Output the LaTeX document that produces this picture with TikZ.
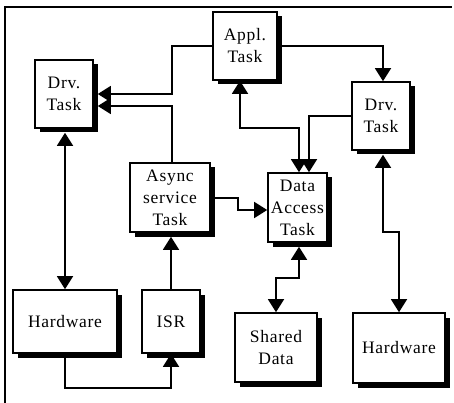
\documentclass[tikz,border=0pt]{standalone}
\usepackage{fontspec}
\setmainfont[LetterSpace=4]{Liberation Serif}
\usetikzlibrary{positioning, shadows, arrows.meta}

\begin{document}
\begin{tikzpicture}[
  x=1pt, y=-1pt,
  every node/.style={
    font=\fontsize{17.5}{22}\selectfont,
    align=center,
    inner sep=0mm
  },
  task box/.style={
    draw,
    fill=white,
    line width=1.6pt,
    drop shadow={shadow xshift=4.5pt, shadow yshift=-4.5pt, fill=black, opacity=1}
  },
  link arrow/.style={
    -{Triangle[length=13pt, width=16pt]},
    line width=1.5pt
  },
  both arrow/.style={
    {Triangle[length=13pt, width=16pt]}-{Triangle[length=13pt, width=16pt]},
    line width=1.5pt
  }
]
\useasboundingbox (0,0) rectangle (454,403);

% frame
\draw[line width=1.5pt] (5,403) -- (5,7) -- (452,7);

\node(drvL)[task box, minimum width=58pt, minimum height=68pt] at (64,94) {Drv.\\Task};
\node(appl)[task box, minimum width=64pt, minimum height=68pt] at (245,46) {Appl.\\Task};
\node(drvR)[task box, minimum width=58pt, minimum height=68pt] at (381,116) {Drv.\\Task};
\node(async)[task box, minimum width=80pt, minimum height=69pt] at (170,197.5) {Async\\service\\Task};
\node(access)[task box, minimum width=59pt, minimum height=69pt] at (297.5,207.5) {Data\\Access\\Task};
\node(hwL)[task box, minimum width=104pt, minimum height=63pt] at (65,321.5) {Hardware};
\node(isr)[task box, minimum width=58pt, minimum height=63pt] at (171,321.5) {ISR};
\node(shared)[task box, minimum width=82pt, minimum height=69pt] at (276,347.5) {Shared\\Data};
\node(hwR)[task box, minimum width=92pt, minimum height=70pt] at (399,348) {Hardware};

\coordinate (bendA) at (172,46);
\coordinate (bendB) at (238,198);
\coordinate (bendC) at (65,388);
\coordinate (bendD) at (299,278);
\coordinate (bendE) at (240,128);
\coordinate (bendR) at (383,232);

\draw[link arrow, shorten >=4pt] (appl.west) -- (bendA) |- (drvL.east);
\draw[link arrow, shorten >=4pt] (async.north -| bendA) |- ([yshift=-12pt]drvL.east);
\draw[link arrow] (appl.east) -| (drvR.north -| bendR);
\draw[both arrow] (appl.south -| bendE) -- (bendE) -| ([xshift=1.5pt]access.north);
\draw[link arrow] (drvR.west) -| ([xshift=11.5pt]access.north);
\draw[both arrow, shorten <=4pt] (drvR.south -| bendR) -- (bendR) -| (hwR.north);
\draw[link arrow] (async.east |- bendB) -- (bendB) |- (access.west |- 0,210);
\draw[link arrow, shorten >=4pt] (isr.north) -- (isr.north |- async.south);
\draw[both arrow, shorten <=4pt] (drvL.south -| hwL.north) -- (hwL.north);
\draw[link arrow] (hwL.south) -- (bendC) -| (isr.south);
\draw[both arrow, shorten <=4pt] (access.south -| bendD) -- (bendD) -| (shared.north);

\end{tikzpicture}
\end{document}
